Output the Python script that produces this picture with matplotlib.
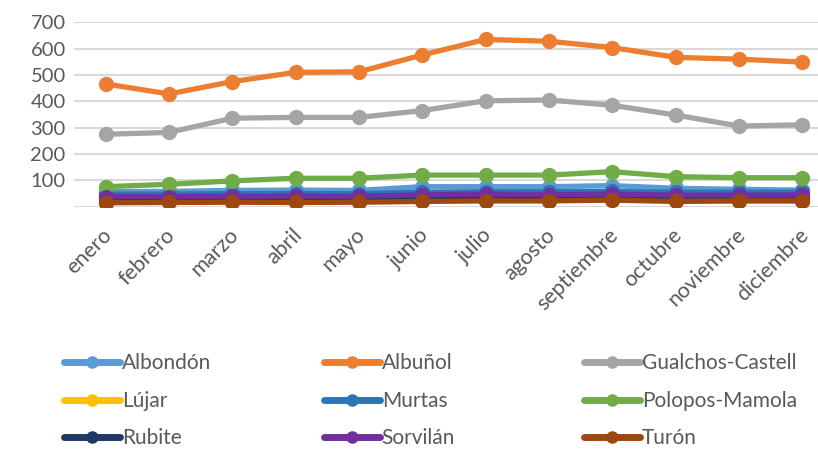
import matplotlib
matplotlib.use("Agg")
import matplotlib.pyplot as plt
import matplotlib.transforms as mtransforms

months = ["enero", "febrero", "marzo", "abril", "mayo", "junio", "julio",
          "agosto", "septiembre", "octubre", "noviembre", "diciembre"]

albondon = [57, 58, 62, 63, 62, 76, 76, 76, 80, 70, 66, 63]
albunol = [466, 428, 475, 510, 512, 576, 635, 628, 604, 567, 560, 549]
gualchos = [275, 282, 336, 339, 339, 365, 402, 405, 385, 348, 306, 311]
lujar = [20, 20, 22, 22, 22, 25, 26, 26, 27, 24, 22, 22]
murtas = [48, 48, 50, 50, 50, 55, 57, 57, 58, 55, 55, 55]
polopos = [76, 85, 98, 108, 108, 120, 120, 120, 133, 114, 110, 110]
rubite = [30, 30, 32, 32, 32, 35, 36, 36, 38, 35, 34, 34]
sorvilan = [38, 38, 40, 40, 40, 45, 48, 46, 48, 44, 44, 45]
turon = [15, 16, 17, 16, 17, 20, 22, 22, 25, 20, 22, 22]

series_names = ["Albondón", "Albuñol", "Gualchos-Castell", "Lújar", "Murtas",
                "Polopos-Mamola", "Rubite", "Sorvilán", "Turón"]
series_values = [albondon, albunol, gualchos, lujar, murtas, polopos,
                 rubite, sorvilan, turon]
colors = ["#5B9BD5", "#ED7D31", "#A5A5A5", "#FFC000", "#2E75B6",
          "#70AD47", "#1F3864", "#7030A0", "#9E480E"]

yticks = [0, 100, 200, 300, 400, 500, 600, 700]
ytick_labels = ["", "100", "200", "300", "400", "500", "600", "700"]

plt.rcParams['font.family'] = ['Lato', 'DejaVu Sans']
fig = plt.figure(figsize=(8.18, 4.49), dpi=100)
W, H = 818, 449
left_px, right_px = 74, 834
top_px, bot_px = 22.3, 206.7
ax = fig.add_axes([left_px / W, 1 - bot_px / H, (right_px - left_px) / W,
                   (bot_px - top_px) / H])

x = list(range(len(months)))
handles = []
for name, vals, c in zip(series_names, series_values, colors):
    h, = ax.plot(x, vals, color=c, lw=3.8, marker='o', ms=10, label=name,
                 solid_capstyle='round', zorder=3)
    handles.append(h)

ax.set_xlim(-0.5, len(months) - 0.5)
ax.set_ylim(0, 700)
ax.set_yticks(yticks)
ax.set_yticklabels(ytick_labels, fontsize=14.5, color="#595959")
ax.set_xticks(x)
ax.set_xticklabels(months, rotation=45, ha='right', rotation_mode='anchor',
                   fontsize=15.5, color="#595959")
ax.tick_params(length=0, pad=6)
ax.tick_params(axis='x', pad=13)
offset = mtransforms.ScaledTranslation(-4 / 100, 0, fig.dpi_scale_trans)
for lab in ax.get_xticklabels():
    lab.set_transform(lab.get_transform() + offset)
ax.grid(axis='y', color="#D9D9D9", lw=1.5, zorder=0)
ax.set_axisbelow(True)
for s in ax.spines.values():
    s.set_visible(False)

col_x = [54, 314, 574]
for ci in range(3):
    idx = [ci, ci + 3, ci + 6]
    leg = fig.legend([handles[i] for i in idx], [series_names[i] for i in idx],
                     ncol=1, loc='upper left',
                     bbox_to_anchor=(col_x[ci] / W, 1 - 343 / H),
                     frameon=False, fontsize=15, handlelength=2.65,
                     handletextpad=0.1, labelspacing=0.84, borderpad=0,
                     markerscale=0.8)
    for t in leg.get_texts():
        t.set_color("#595959")
    for lh in leg.legend_handles:
        lh.set_linewidth(5)

fig.savefig("out.png", dpi=100)
